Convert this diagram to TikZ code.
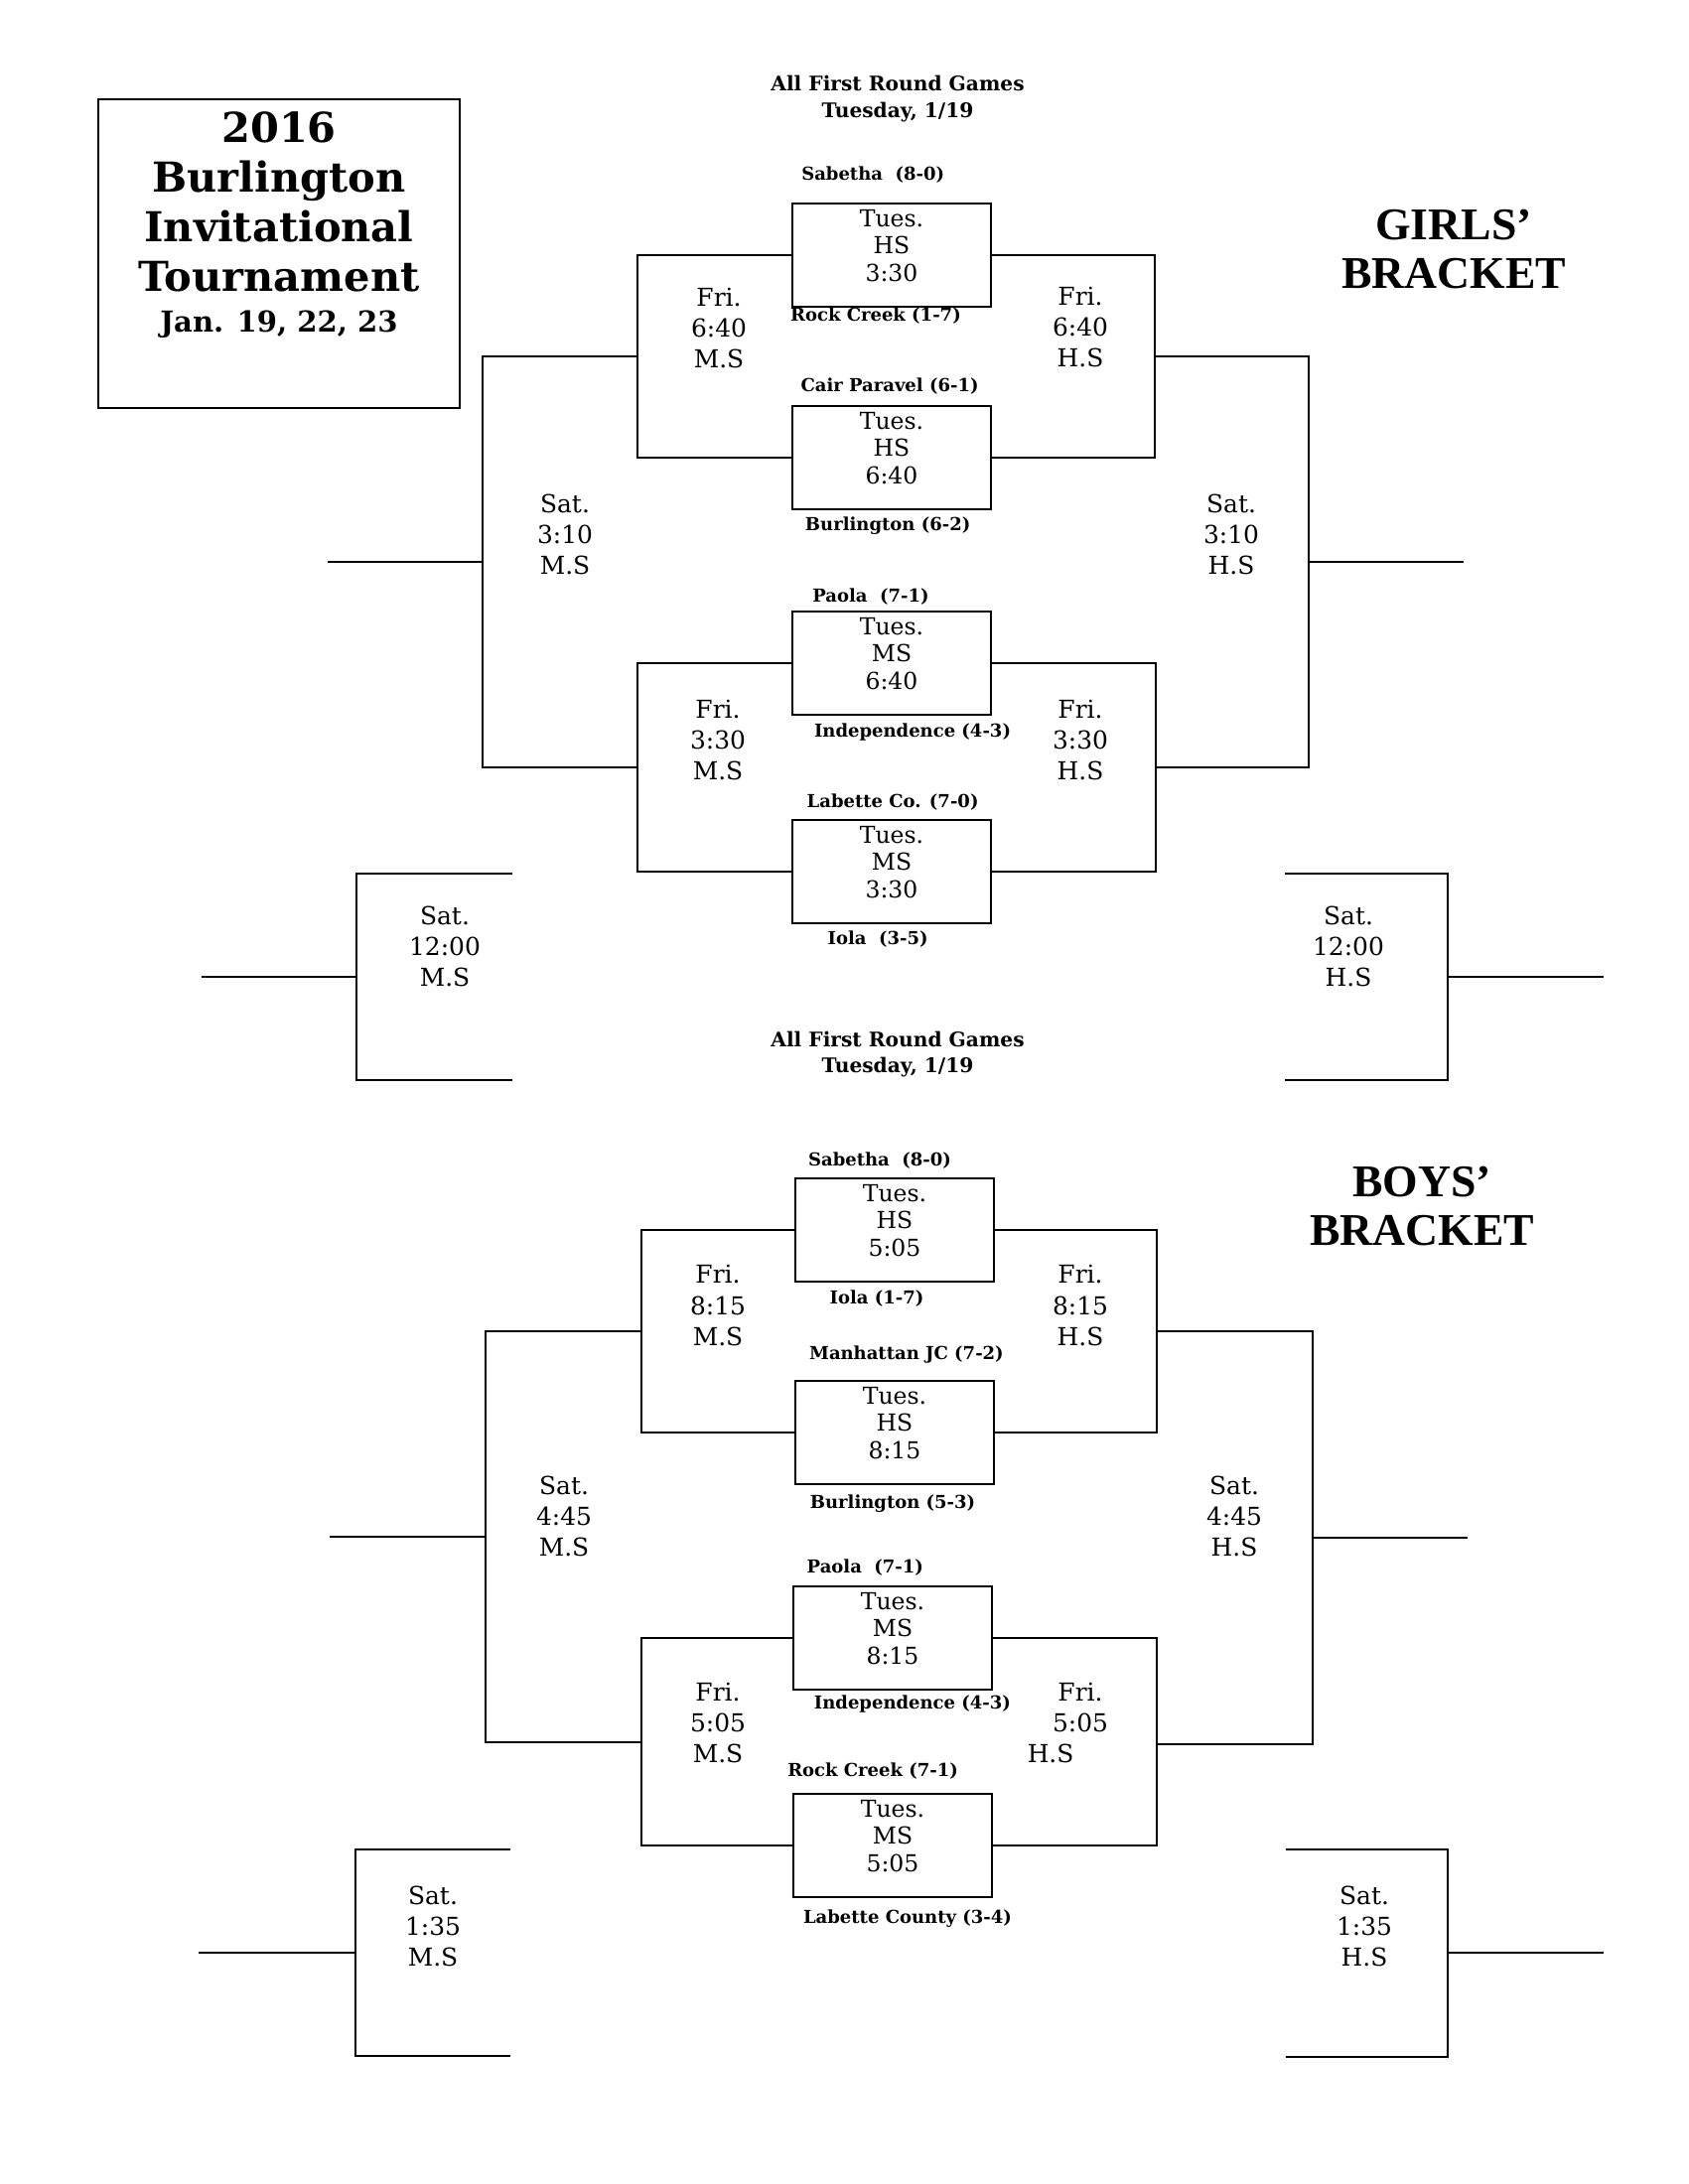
\documentclass[tikz,border=0pt]{standalone}
\usepackage{fontspec}
\setmainfont{DejaVu Serif}
\newfontfamily\headfont{Liberation Serif}
\usetikzlibrary{positioning}

\begin{document}
\begin{tikzpicture}[x=0.0127cm, y=-0.0127cm, line width=0.7pt,
    game/.style={rectangle, draw, minimum width=2.54cm, minimum height=1.32cm, inner sep=0pt, align=center, font=\fontsize{8.5}{10}\selectfont},
    slot/.style={align=center, inner sep=0pt, font=\fontsize{9}{11.2}\selectfont},
    team/.style={inner sep=0pt, text height=5pt, text depth=1.2pt, font=\bfseries\fontsize{6.5}{8}\selectfont},
    firstround/.style={align=center, inner sep=0pt, font=\bfseries\fontsize{7.3}{9.7}\selectfont},
    bracketname/.style={align=center, inner sep=0pt, font=\headfont\bfseries\fontsize{16.5}{18}\selectfont}]

    \useasboundingbox (0,0) rectangle (1700,2200);

    % Title
    \node[draw, minimum width=4.62cm, minimum height=3.95cm] (titlebox) at (281,255.5) {};
    \node[below=0.05cm of titlebox.north, align=center, font=\bfseries\fontsize{15}{18}\selectfont] (titletext)
        {2016\\Burlington\\Invitational\\Tournament\\[-3pt]{\fontsize{10.5}{13}\selectfont Jan. 19, 22, 23}};

    % ---------------- Girls' bracket ----------------
    \node[firstround] (ground) at (904,99.5) {All First Round Games\\Tuesday, 1/19};
    \node[bracketname] (gname) at (1464,251) {GIRLS’\\BRACKET};

    % First round games
    \node[game] (gA) at (898,257) {Tues.\\HS\\3:30\\[-3pt]\mbox{}};
    \node[game] (gB) at (898,461) {Tues.\\HS\\6:40\\[-3pt]\mbox{}};
    \node[game] (gC) at (898,668) {Tues.\\MS\\6:40\\[-3pt]\mbox{}};
    \node[game] (gD) at (898,878) {Tues.\\MS\\3:30\\[-3pt]\mbox{}};

    \node[team, above=6.6pt of gA, xshift=-6.8pt] (gAtop) {Sabetha\ \ (8-0)};
    \node[team, below=-0.6pt of gA, xshift=-5.8pt] (gAbot) {Rock Creek (1-7)};
    \node[team, above=3.4pt of gB, xshift=-0.7pt] (gBtop) {Cair Paravel (6-1)};
    \node[team, below=1.9pt of gB, xshift=-1.4pt] (gBbot) {Burlington (6-2)};
    \node[team, above=1.6pt of gC, xshift=-7.6pt] (gCtop) {Paola\ \ (7-1)};
    \node[team, below=2.3pt of gC, xshift=7.6pt] (gCbot) {Independence (4-3)};
    \node[team, above=2.7pt of gD, xshift=0.4pt] (gDtop) {Labette Co. (7-0)};
    \node[team, below=1.9pt of gD, xshift=-5pt] (gDbot) {Iola\ \ (3-5)};

    % Later rounds
    \node[slot] (gFriL1) at (724,331) {Fri.\\6:40\\M.S};
    \node[slot] (gFriR1) at (1088,330) {Fri.\\6:40\\H.S};
    \node[slot] (gSatL) at (569,538) {Sat.\\3:10\\M.S};
    \node[slot] (gSatR) at (1240,538) {Sat.\\3:10\\H.S};
    \node[slot] (gFriL2) at (723,746) {Fri.\\3:30\\M.S};
    \node[slot] (gFriR2) at (1088,746) {Fri.\\3:30\\H.S};
    \node[slot] (gNoonL) at (448,953) {Sat.\\12:00\\M.S};
    \node[slot] (gNoonR) at (1358,953) {Sat.\\12:00\\H.S};

    \coordinate (gL1) at (642,359);
    \coordinate (gL2) at (642,773);
    \coordinate (gSL) at (486,566);
    \coordinate (gSLend) at (330,566);
    \coordinate (gR1) at (1163,359);
    \coordinate (gR2) at (1164,773);
    \coordinate (gSR) at (1318,566);
    \coordinate (gSRend) at (1474,566);
    \coordinate (gZL) at (359,984);
    \coordinate (gZLtop) at (516,880);
    \coordinate (gZLbot) at (516,1088);
    \coordinate (gZLend) at (203,984);
    \coordinate (gZR) at (1458,984);
    \coordinate (gZRtop) at (1294,880);
    \coordinate (gZRbot) at (1294,1088);
    \coordinate (gZRend) at (1615,984);

    % Girls lines
    \draw (gA.west) -| (gL1) |- (gB.west);
    \draw (gC.west) -| (gL2) |- (gD.west);
    \draw (gL1) -| (gSL) |- (gL2);
    \draw (gSL) -- (gSLend);
    \draw (gA.east) -| (gR1) |- (gB.east);
    \draw (gC.east) -| (gR2) |- (gD.east);
    \draw (gR1) -| (gSR) |- (gR2);
    \draw (gSR) -- (gSRend);
    \draw (gZLtop) -| (gZL) |- (gZLbot);
    \draw (gZL) -- (gZLend);
    \draw (gZRtop) -| (gZR) |- (gZRbot);
    \draw (gZR) -- (gZRend);

    % ---------------- Boys' bracket ----------------
    \node[firstround] (bround) at (904,1062) {All First Round Games\\Tuesday, 1/19};
    \node[bracketname] (bname) at (1432,1215) {BOYS’\\BRACKET};

    % First round games
    \node[game] (bA) at (901,1239) {Tues.\\HS\\5:05\\[-3pt]\mbox{}};
    \node[game] (bB) at (901,1443) {Tues.\\HS\\8:15\\[-3pt]\mbox{}};
    \node[game] (bC) at (899,1650) {Tues.\\MS\\8:15\\[-3pt]\mbox{}};
    \node[game] (bD) at (899,1859) {Tues.\\MS\\5:05\\[-3pt]\mbox{}};

    \node[team, above=2.5pt of bA, xshift=-5.4pt] (bAtop) {Sabetha\ \ (8-0)};
    \node[team, below=2.5pt of bA, xshift=-6.5pt] (bAbot) {Iola (1-7)};
    \node[team, above=6pt of bB, xshift=4.3pt] (bBtop) {Manhattan JC (7-2)};
    \node[team, below=3pt of bB, xshift=-0.7pt] (bBbot) {Burlington (5-3)};
    \node[team, above=3pt of bC, xshift=-10pt] (bCtop) {Paola\ \ (7-1)};
    \node[team, below=1.2pt of bC, xshift=7.2pt] (bCbot) {Independence (4-3)};
    \node[team, above=4.5pt of bD, xshift=-7.2pt] (bDtop) {Rock Creek (7-1)};
    \node[team, below=3.7pt of bD, xshift=5.4pt] (bDbot) {Labette County (3-4)};

    % Later rounds
    \node[slot] (bFriL1) at (723,1315) {Fri.\\8:15\\M.S};
    \node[slot] (bFriR1) at (1088,1315) {Fri.\\8:15\\H.S};
    \node[slot] (bSatL) at (568,1527) {Sat.\\4:45\\M.S};
    \node[slot] (bSatR) at (1243,1527) {Sat.\\4:45\\H.S};
    \node[slot] (bFriL2) at (723,1735) {Fri.\\5:05\\M.S};
    \node[slot] (bFriR2) at (1088,1735) {Fri.\\5:05\\H.S\hspace*{21.6pt}};
    \node[slot] (bLateL) at (436,1940) {Sat.\\1:35\\M.S};
    \node[slot] (bLateR) at (1374,1940) {Sat.\\1:35\\H.S};

    \coordinate (bL1) at (646,1341);
    \coordinate (bL2) at (646,1755);
    \coordinate (bSL) at (489,1548);
    \coordinate (bSLend) at (332,1548);
    \coordinate (bR1) at (1165,1341);
    \coordinate (bR2) at (1165,1757);
    \coordinate (bSR) at (1322,1549);
    \coordinate (bSRend) at (1478,1549);
    \coordinate (bZL) at (358,1967);
    \coordinate (bZLtop) at (514,1863);
    \coordinate (bZLbot) at (514,2071);
    \coordinate (bZLend) at (200,1967);
    \coordinate (bZR) at (1458,1967);
    \coordinate (bZRtop) at (1295,1863);
    \coordinate (bZRbot) at (1295,2072);
    \coordinate (bZRend) at (1615,1967);

    % Boys lines
    \draw (bA.west) -| (bL1) |- (bB.west);
    \draw (bC.west) -| (bL2) |- (bD.west);
    \draw (bL1) -| (bSL) |- (bL2);
    \draw (bSL) -- (bSLend);
    \draw (bA.east) -| (bR1) |- (bB.east);
    \draw (bC.east) -| (bR2) |- (bD.east);
    \draw (bR1) -| (bSR) |- (bR2);
    \draw (bSR) -- (bSRend);
    \draw (bZLtop) -| (bZL) |- (bZLbot);
    \draw (bZL) -- (bZLend);
    \draw (bZRtop) -| (bZR) |- (bZRbot);
    \draw (bZR) -- (bZRend);

\end{tikzpicture}
\end{document}
